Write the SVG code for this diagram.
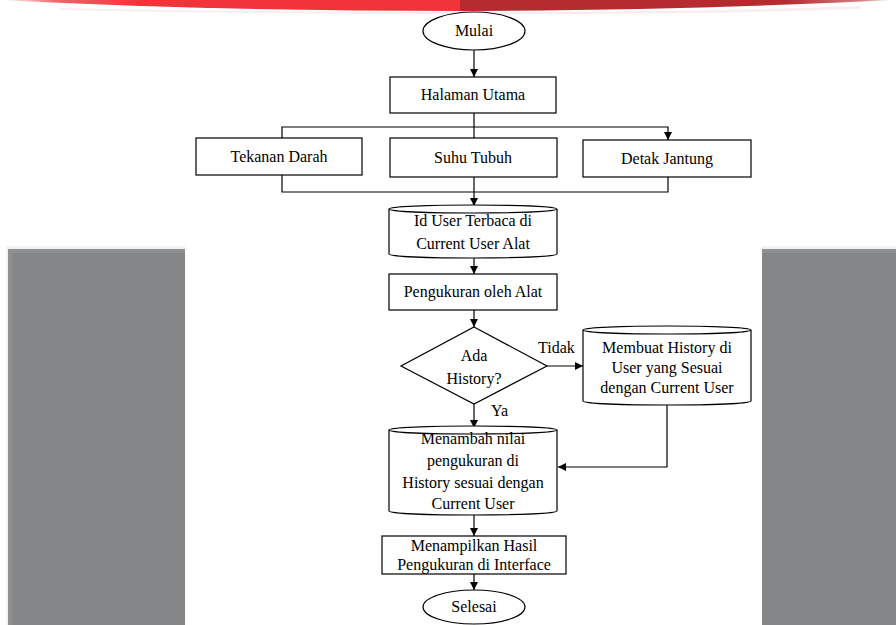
<svg xmlns="http://www.w3.org/2000/svg" width="896" height="625" viewBox="0 0 896 625">
<defs>
<linearGradient id="redL" x1="0" y1="0" x2="1" y2="0">
<stop offset="0" stop-color="#f0343a" stop-opacity="0"/>
<stop offset="0.12" stop-color="#f0343a" stop-opacity="0.75"/>
<stop offset="0.3" stop-color="#f0343a"/>
<stop offset="1" stop-color="#f0343a"/>
</linearGradient>
<linearGradient id="redR" x1="0" y1="0" x2="1" y2="0">
<stop offset="0" stop-color="#b52b30"/>
<stop offset="0.75" stop-color="#b52b30"/>
<stop offset="0.92" stop-color="#b52b30" stop-opacity="0.6"/>
<stop offset="1" stop-color="#b52b30" stop-opacity="0"/>
</linearGradient>
<marker id="arr" viewBox="0 0 10 10" refX="10" refY="5" markerWidth="8" markerHeight="8" markerUnits="userSpaceOnUse" orient="auto">
<path d="M0,0 L10,5 L0,10 Z" fill="#000"/>
</marker>
<style>
.shape{fill:#fff;stroke:#000;stroke-width:1.2}
.conn{fill:none;stroke:#000;stroke-width:1.2}
text{font-family:"Liberation Serif","Times New Roman",serif;font-size:16px;fill:#000;text-anchor:middle}
.lbl{text-anchor:start}
</style>
</defs>
<rect width="896" height="625" fill="#fff"/>
<!-- top band -->
<path d="M60,8 C200,11 330,12 460,12 C600,12 720,11 860,6 L860,9 C720,14 600,14 460,14 C330,14 200,13 60,10 Z" fill="#f8e6e7" opacity="0.7"/>
<path d="M0,0 L460,0 L460,11 C300,10.5 150,8 0,0 Z" fill="url(#redL)"/>
<path d="M460,0 L896,0 C750,7 620,10.5 460,11 Z" fill="url(#redR)"/>
<!-- gray panels -->
<g id="panels">
<rect x="6" y="246" width="179" height="379" fill="#f2f2f2"/>
<rect x="8" y="249" width="177" height="376" fill="#858688"/>
<rect x="8" y="249" width="177" height="4" fill="#8e8f91"/>
<rect x="8" y="249" width="4" height="376" fill="#8e8f91"/>
<rect x="762" y="246" width="134" height="379" fill="#f2f2f2"/>
<rect x="762" y="249" width="134" height="376" fill="#858688"/>
<rect x="762" y="249" width="134" height="4" fill="#8e8f91"/>
</g>
<g id="connectors">
<line class="conn" x1="474" y1="50" x2="474" y2="77" marker-end="url(#arr)"/>
<polyline class="conn" points="474,113 474,138"/>
<polyline class="conn" points="282,138 282,127 668,127 668,140" marker-end="url(#arr)"/>
<polyline class="conn" points="282,175 282,192 668,192 668,177"/>
<line class="conn" x1="474" y1="177" x2="474" y2="206" marker-end="url(#arr)"/>
<line class="conn" x1="474" y1="258" x2="474" y2="274" marker-end="url(#arr)"/>
<line class="conn" x1="474" y1="310" x2="474" y2="327" marker-end="url(#arr)"/>
<line class="conn" x1="547" y1="366" x2="583" y2="366" marker-end="url(#arr)"/>
<text class="lbl" x="538" y="353">Tidak</text>
<line class="conn" x1="474" y1="404" x2="474" y2="428" marker-end="url(#arr)"/>
<text class="lbl" x="491" y="416">Ya</text>
<polyline class="conn" points="667,405 667,467 558,467" marker-end="url(#arr)"/>
<line class="conn" x1="474" y1="515" x2="474" y2="536" marker-end="url(#arr)"/>
<line class="conn" x1="474" y1="574" x2="474" y2="590" marker-end="url(#arr)"/>
</g>
<g id="mulai">
<ellipse class="shape" cx="474" cy="31" rx="51" ry="19"/>
<text x="474" y="36">Mulai</text>
</g>
<g id="halaman-utama">
<rect class="shape" x="390" y="77" width="166" height="36"/>
<text x="473" y="100">Halaman Utama</text>
</g>
<g id="tekanan-darah">
<rect class="shape" x="196" y="138" width="166" height="37"/>
<text x="279" y="162">Tekanan Darah</text>
</g>
<g id="suhu-tubuh">
<rect class="shape" x="390" y="138" width="167" height="39"/>
<text x="473" y="163">Suhu Tubuh</text>
</g>
<g id="detak-jantung">
<rect class="shape" x="583" y="140" width="168" height="37"/>
<text x="667" y="164">Detak Jantung</text>
</g>
<g id="id-user">
<path class="shape" d="M389,209 A84,4 0 0 1 557,209 L557,254 A84,4 0 0 1 389,254 Z"/>
<path class="conn" d="M389,209 A84,4 0 0 0 557,209"/>
<text x="473" y="226">Id User Terbaca di</text>
<text x="473" y="249">Current User Alat</text>
</g>
<g id="pengukuran">
<rect class="shape" x="389" y="274" width="168" height="36"/>
<text x="473" y="297">Pengukuran oleh Alat</text>
</g>
<g id="ada-history">
<polygon class="shape" points="474,327 547,366 474,404 401,366"/>
<text x="474" y="361">Ada</text>
<text x="474" y="384">History?</text>
</g>
<g id="membuat-history">
<path class="shape" d="M583,330 A84,4 0 0 1 751,330 L751,401 A84,4 0 0 1 583,401 Z"/>
<path class="conn" d="M583,330 A84,4 0 0 0 751,330"/>
<text x="667" y="353">Membuat History di</text>
<text x="667" y="373">User yang Sesuai</text>
<text x="667" y="393">dengan Current User</text>
</g>
<g id="menambah">
<path class="shape" d="M389,430 A84,4 0 0 1 557,430 L557,511 A84,4 0 0 1 389,511 Z"/>
<path class="conn" d="M389,430 A84,4 0 0 0 557,430"/>
<text x="473" y="444">Menambah nilai</text>
<text x="473" y="466">pengukuran di</text>
<text x="473" y="488">History sesuai dengan</text>
<text x="473" y="509">Current User</text>
</g>
<g id="menampilkan">
<rect class="shape" x="382" y="536" width="184" height="38"/>
<text x="474" y="551">Menampilkan Hasil</text>
<text x="474" y="570">Pengukuran di Interface</text>
</g>
<g id="selesai">
<ellipse class="shape" cx="474" cy="607" rx="51" ry="17"/>
<text x="474" y="612">Selesai</text>
</g>
</svg>
